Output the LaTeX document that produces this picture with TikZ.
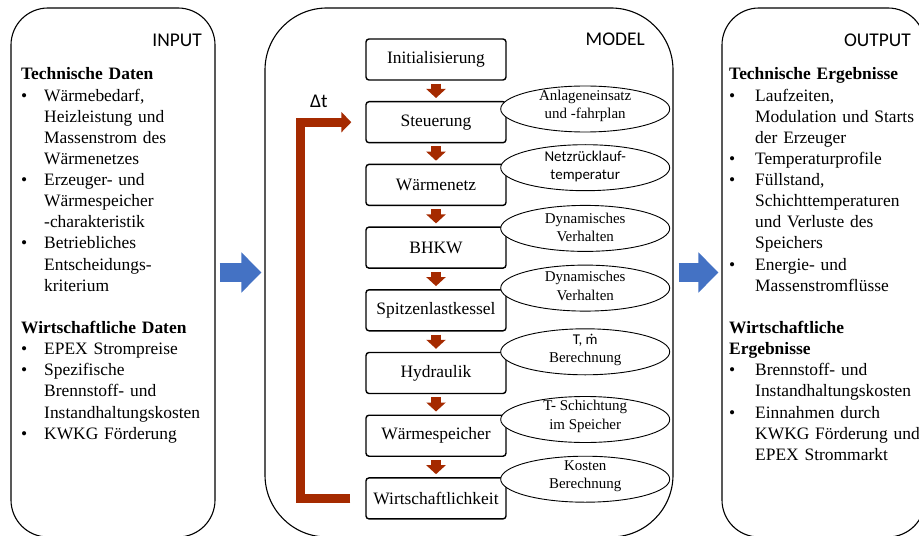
\documentclass[tikz,border=0pt]{standalone}
\usepackage{fontspec}
\setmainfont{Liberation Serif}
\newfontfamily\calfont{Carlito}
\usetikzlibrary{positioning,shapes.geometric,arrows.meta}

\definecolor{loopred}{RGB}{165,42,0}
\definecolor{flowblue}{RGB}{68,114,196}

\newcommand{\bul}[1]{\makebox[#1][l]{\textbullet}}
\newcommand{\ind}[1]{\hspace*{#1}}

\tikzset{
  panel/.style={draw, line width=1.1bp, minimum width=204bp, minimum height=529bp,
    rounded corners=37bp, inner sep=0pt},
  paneltext/.style={anchor=base west, inner sep=0pt, text width=200bp, align=left,
    font=\fontsize{17.5}{21.2}\selectfont},
  title/.style={anchor=base east, inner sep=0pt, font=\calfont\fontsize{19.5}{23}\selectfont},
  stepbox/.style={draw, line width=1.4bp, rounded corners=3bp, minimum width=140bp,
    minimum height=41bp, inner sep=0pt, font=\fontsize{17.5}{21}\selectfont},
  note/.style={ellipse, draw, fill=white, line width=0.9bp, minimum width=169bp,
    minimum height=46bp, inner sep=0pt},
  notetext/.style={inner sep=0pt, align=center, font=\fontsize{15}{18.5}\selectfont},
  nextarrow/.style={draw=loopred, line width=10bp, shorten <=3bp, shorten >=3bp,
    -{Triangle[length=9bp,width=19bp]}},
  loopline/.style={draw=loopred, line width=9bp, -{Triangle[length=10bp,width=20bp]}},
  flow/.style={draw=flowblue, line width=19bp, -{Triangle[length=20bp,width=39bp]}}
}

\begin{document}
\begin{tikzpicture}[x=1bp,y=-1bp]
\clip (0,0) rectangle (919,536);

% the three panels
\node[panel] (input) at (113,272.5) {};
\node[panel, minimum width=408bp, rounded corners=62bp] (model) at (469,272.5) {};
\node[panel, minimum width=203bp] (output) at (823.5,272.5) {};

\node[title] (intitle) at (202,47) {INPUT};
\node[title] (modeltitle) at (645,46) {MODEL};
\node[title] (outtitle) at (911,47) {OUTPUT};

% input data
\node[paneltext] (intext) at (21,80) {\textbf{Technische Daten}\\
  \bul{23bp}Wärmebedarf,\\
  \ind{23bp}Heizleistung und\\
  \ind{23bp}Massenstrom des\\
  \ind{23bp}Wärmenetzes\\
  \bul{23bp}Erzeuger- und\\
  \ind{23bp}Wärmespeicher\\
  \ind{23bp}-charakteristik\\
  \bul{23bp}Betriebliches\\
  \ind{23bp}Entscheidungs-\\
  \ind{23bp}kriterium\\[21.2bp]
  \textbf{Wirtschaftliche Daten}\\
  \bul{23bp}EPEX Strompreise\\
  \bul{23bp}Spezifische\\
  \ind{23bp}Brennstoff- und\\
  \ind{23bp}Instandhaltungskosten\\
  \bul{23bp}KWKG Förderung};

% output data
\node[paneltext] (outtext) at (729,80) {\textbf{Technische Ergebnisse}\\
  \bul{26bp}Laufzeiten,\\
  \ind{26bp}Modulation und Starts\\
  \ind{26bp}der Erzeuger\\
  \bul{26bp}Temperaturprofile\\
  \bul{26bp}Füllstand,\\
  \ind{26bp}Schichttemperaturen\\
  \ind{26bp}und Verluste des\\
  \ind{26bp}Speichers\\
  \bul{26bp}Energie- und\\
  \ind{26bp}Massenstromflüsse\\[21.2bp]
  \textbf{Wirtschaftliche}\\
  \textbf{Ergebnisse}\\
  \bul{26bp}Brennstoff- und\\
  \ind{26bp}Instandhaltungskosten\\
  \bul{26bp}Einnahmen durch\\
  \ind{26bp}KWKG Förderung und\\
  \ind{26bp}EPEX Strommarkt};

% model steps
\node[stepbox] (init) at (436,59.5) {Initialisierung};
\node[stepbox, below=20.3bp of init] (steu) {Steuerung};
\node[stepbox, below=20.3bp of steu] (netz) {Wärmenetz};
\node[stepbox, below=20.3bp of netz] (bhkw) {BHKW};
\node[stepbox, below=20.3bp of bhkw] (spitz) {Spitzenlastkessel};
\node[stepbox, below=20.3bp of spitz] (hydr) {Hydraulik};
\node[stepbox, below=20.3bp of hydr] (speich) {Wärmespeicher};
\node[stepbox, below=20.3bp of speich] (wirt) {Wirtschaftlichkeit};

\foreach \a/\b in {init/steu, steu/netz, netz/bhkw, bhkw/spitz, spitz/hydr, hydr/speich, speich/wirt}
  \draw[nextarrow] (\a.south) -- (\b.north);

% notes
\node[note] (n1) at ([xshift=78.5bp,yshift=-8bp]steu.north east) {};
\node[note] (n2) at ([xshift=78.5bp,yshift=-4bp]netz.north east) {};
\node[note] (n3) at ([xshift=78.5bp,yshift=-2bp]bhkw.north east) {};
\node[note] (n4) at ([xshift=78.5bp,yshift=1bp]spitz.north east) {};
\node[note] (n5) at ([xshift=78.5bp]hydr.north east) {};
\node[note] (n6) at ([xshift=78.5bp,yshift=-5bp]speich.north east) {};
\node[note] (n7) at ([xshift=78.5bp,yshift=-2bp]wirt.north east) {};

\node[notetext] (t1) at ([yshift=3bp]n1.center) {Anlageneinsatz\\und -fahrplan};
\node[notetext, font=\calfont\fontsize{15}{18.5}\selectfont] (t2) at ([yshift=1bp]n2.center) {Netzrücklauf-\\temperatur};
\node[notetext] (t3) at ([yshift=1bp]n3.center) {Dynamisches\\Verhalten};
\node[notetext] (t4) at ([yshift=2bp]n4.center) {Dynamisches\\Verhalten};
\node[notetext] (t5) at ([yshift=2bp]n5.center) {{\calfont T, ṁ}\\Berechnung};
\node[notetext] (t6) at ([yshift=3bp]n6.center) {T- Schichtung\\im Speicher};
\node[notetext] (t7) at ([yshift=3bp]n7.center) {Kosten\\Berechnung};

% time step loop
\node[title, anchor=base west] (dt) at (310,108) {Δt};
\draw[loopline] ([xshift=-15bp]wirt.west) -| ([xshift=-64.5bp]steu.west) -- ([xshift=-14bp]steu.west);

% flow between panels
\draw[flow] ([xshift=4bp]input.east) -- ([xshift=-3bp]model.west);
\draw[flow] ([xshift=5bp]model.east) -- ([xshift=-3bp]output.west);
\end{tikzpicture}
\end{document}
